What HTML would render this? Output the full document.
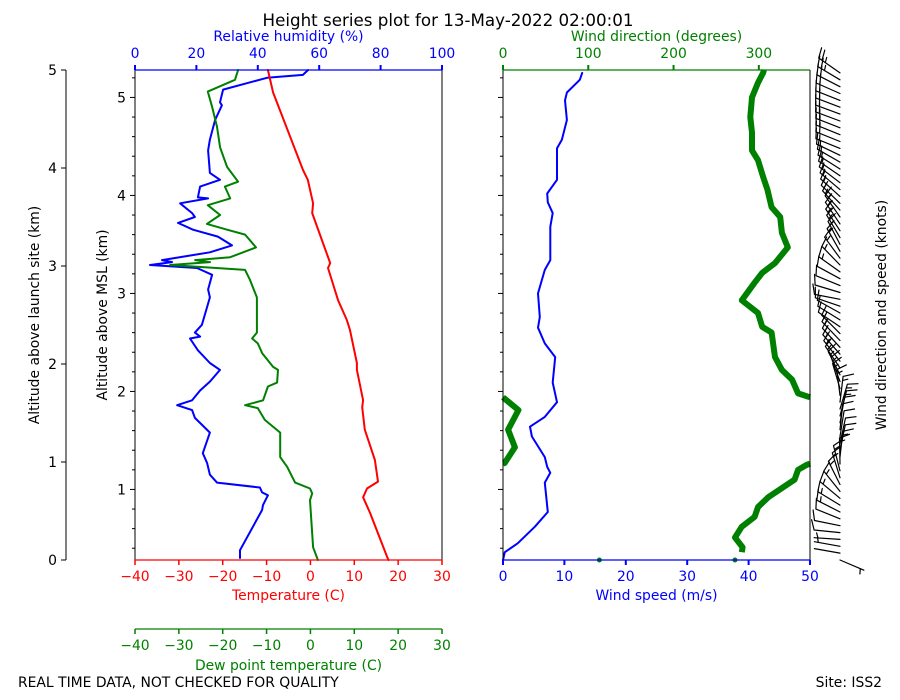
<!DOCTYPE html>
<html><head><meta charset="utf-8"><style>
body{margin:0;background:#fff}
svg{display:block;font-family:"DejaVu Sans","Liberation Sans",sans-serif}
</style></head><body>
<svg id="c" width="900" height="700" viewBox="0 0 900 700">
<text x="448" y="26" font-size="16.7" text-anchor="middle">Height series plot for 13-May-2022 02:00:01</text>
<text x="18" y="687" font-size="13.9">REAL TIME DATA, NOT CHECKED FOR QUALITY</text>
<text x="882" y="687" font-size="13.9" text-anchor="end">Site: ISS2</text>
<g id="g"></g>
</svg>
<script>
// ---- data (altitude above launch site, km) ----
const tAlt=[0,0.03,0.48,0.64,0.73,0.80,1.02,1.33,1.56,1.63,1.94,2.01,2.35,2.45,2.65,2.98,3.03,3.54,3.64,3.88,3.98,4.77,5.0];
const tVal=[17.8,17.5,13.6,12.0,12.9,15.4,14.7,12.4,11.8,12.0,10.6,10.6,9.0,8.3,6.3,4.0,4.5,0.4,0.6,-0.6,-1.7,-8.5,-9.7];
const tdAlt=[5.0,4.90,4.78,4.62,4.42,4.21,4.01,3.86,3.81,3.69,3.62,3.52,3.43,3.37,3.32,3.19,3.09,3.06,3.04,3.01,2.96,2.86,2.68,2.45,2.32,2.26,2.21,2.11,1.97,1.94,1.81,1.77,1.63,1.58,1.55,1.43,1.30,1.05,0.95,0.79,0.73,0.68,0.61,0.13,0];
const tdVal=[-16.5,-17.2,-23.4,-22.4,-21.3,-20.6,-19.0,-16.5,-19.5,-18.3,-23.4,-20.6,-23.6,-19.0,-14.9,-12.4,-18.3,-26.3,-22.9,-32.0,-14.9,-13.8,-12.2,-12.2,-12.2,-13.3,-12.0,-11.0,-8.5,-7.4,-7.6,-9.7,-10.8,-14.9,-12.0,-10.4,-6.9,-6.9,-5.3,-3.5,-0.1,0.4,-0.1,0.6,1.7];
const rhAlt=[5.0,4.95,4.92,4.80,4.67,4.64,4.49,4.29,4.18,3.95,3.88,3.81,3.70,3.69,3.64,3.54,3.50,3.44,3.37,3.30,3.21,3.14,3.06,3.04,3.01,2.98,2.91,2.76,2.68,2.40,2.32,2.28,2.26,2.14,2.01,1.94,1.82,1.73,1.63,1.58,1.53,1.45,1.30,1.09,0.99,0.87,0.79,0.74,0.69,0.66,0.56,0.51,0.10,0.02];
const rhVal=[56.4,54.7,43.0,28.7,27.7,28.3,26.1,24.4,23.8,24.4,27.7,21.2,20.5,23.8,14.7,18.6,19.5,14.0,18.9,27.0,31.6,24.4,8.8,12.1,4.9,20.2,25.1,23.8,24.4,21.8,19.5,21.2,17.9,20.5,24.4,27.7,24.4,21.2,18.6,13.7,18.6,19.5,24.4,22.1,23.5,24.4,26.7,40.7,41.4,43.3,41.7,41.4,34.2,34.2];
const wsAlt=[0,0.08,0.17,0.34,0.49,0.79,0.89,0.95,1.05,1.26,1.36,1.46,1.61,1.81,2.07,2.21,2.37,2.48,2.72,2.96,3.06,3.40,3.54,3.65,3.74,3.88,4.20,4.29,4.49,4.69,4.77,4.90,4.97];
const wsVal=[0,0.3,2.4,5.2,7.3,6.8,7.7,7.2,6.8,4.7,4.4,6.8,8.8,8.1,8.5,6.8,5.7,6.0,5.7,6.8,7.7,7.7,8.1,7.3,7.2,8.8,8.8,9.6,10.4,10.1,10.4,12.5,12.9];
const wdAlt=[0.08,0.13,0.23,0.34,0.44,0.54,0.64,0.82,0.92,0.97,0.99,1.15,1.33,1.53,1.66,1.70,1.84,1.94,2.07,2.32,2.38,2.52,2.65,2.83,2.93,3.03,3.19,3.34,3.50,3.60,3.78,3.91,4.08,4.18,4.36,4.52,4.72,4.87,4.97,5.0];
const wdVal=[280,281,272,280,295,299,311,342,346,356,2,14,6,18,0,346,339,327,319,315,304,299,280,295,304,319,334,327,325,315,310,305,299,292,292,290,292,299,305,306];
const groundDir=[113,272];
const groundBarbDir=113, groundBarbSpeed=1.3;
const tTicks=[-40,-30,-20,-10,0,10,20,30];
const rhTicks=[0,20,40,60,80,100];
const wsTicks=[0,10,20,30,40,50];
const wdTicks=[0,100,200,300];
const siteTicks=[0,1,2,3,4,5];
const mslTicks=[1,2,3,4,5];
const mslOffset=0.28;

// ---- scales ----
const yS=a=>560-98*a;
const yM=m=>yS(m-mslOffset);
const xT=t=>135+(t+40)*307/70;
const xRH=r=>135+r*3.07;
const xWS=s=>503+s*6.14;
const xWD=d=>503+d*307/360;

const NS='http://www.w3.org/2000/svg';
const G=document.getElementById('g');
const FS=13.9;
function mk(tag,attrs,parent){const e=document.createElementNS(NS,tag);for(const k in attrs)e.setAttribute(k,attrs[k]);(parent||G).appendChild(e);return e;}
function txt(x,y,s,fill,anchor,size,rot){const e=mk('text',{x:x,y:y,fill:fill,'font-size':size||FS,'text-anchor':anchor||'middle'});if(rot)e.setAttribute('transform','rotate(-90 '+x+' '+y+')');e.textContent=s;return e;}

// ---- series ----
function poly(xs,ys,color,w,name){const p=xs.map((x,i)=>x.toFixed(1)+','+ys[i].toFixed(1)).join(' ');const e=mk('polyline',{points:p,fill:'none',stroke:color,'stroke-width':w,'stroke-linejoin':'round','stroke-linecap':'round'});


return e;}
poly(rhVal.map(xRH),rhAlt.map(yS),'#0000ff',2,'relative-humidity-line');
poly(tdVal.map(xT),tdAlt.map(yS),'#008000',2,'dew-point-line');
poly(tVal.map(xT),tAlt.map(yS),'#ff0000',2,'temperature-line');
poly(wsVal.map(xWS),wsAlt.map(yS),'#0000ff',2,'wind-speed-line');

// wind direction with wrap
(function(){let segs=[[]];
for(let i=0;i<wdVal.length;i++){
 if(i>0){const p=wdVal[i-1],c=wdVal[i],pa=wdAlt[i-1],ca=wdAlt[i];
  if(Math.abs(c-p)>180){let edgeP,edgeC,f;
   if(p>c){f=(360-p)/(c+360-p);edgeP=360;edgeC=0;}else{f=p/(p+360-c);edgeP=0;edgeC=360;}
   const a=pa+(ca-pa)*f;segs[segs.length-1].push([xWD(edgeP),yS(a)]);segs.push([[xWD(edgeC),yS(a)]]);}
 }
 segs[segs.length-1].push([xWD(wdVal[i]),yS(wdAlt[i])]);}
segs.forEach(s=>{if(s.length<2)return;const e=mk('polyline',{points:s.map(q=>q[0].toFixed(1)+','+q[1].toFixed(1)).join(' '),fill:'none',stroke:'#008000','stroke-width':6,'stroke-linejoin':'round','stroke-linecap':'butt'});

});
groundDir.forEach(d=>{const e=mk('circle',{cx:xWD(d),cy:560,r:2.5,fill:'#008000'});

});
})();

// ---- barbs ----
function interp(xa,ya,a){for(let i=1;i<xa.length;i++){if(a<=xa[i]){const f=(a-xa[i-1])/(xa[i]-xa[i-1]);return [i,f];}}return [xa.length-1,1];}
function wsAt(a){const [i,f]=interp(wsAlt,wsVal,a);return wsVal[i-1]+(wsVal[i]-wsVal[i-1])*f;}
function wdAt(a){if(a<=wdAlt[0])return wdVal[0];const [i,f]=interp(wdAlt,wdVal,a);let p=wdVal[i-1],c=wdVal[i];if(c-p>180)c-=360;if(p-c>180)c+=360;return ((p+(c-p)*f)%360+360)%360;}
const BG=mk('g',{stroke:'#000','stroke-width':1.2,fill:'none','stroke-linecap':'round'});


function barb(a,dir,ms){const bx=840,by=yS(a),L=26,th=dir*Math.PI/180;
 const ux=Math.sin(th),uy=-Math.cos(th),px=-uy,py=ux;
 const tx=bx+ux*L,ty=by+uy*L;let d='M'+bx.toFixed(1)+' '+by.toFixed(1)+'L'+tx.toFixed(1)+' '+ty.toFixed(1);
 let kt=Math.round(ms*1.944/5)*5;let full=Math.floor(kt/10),half=kt%10>=5?1:0;let pos=0;
 if(full===0&&half)pos=4;
 for(let k=0;k<full+half;k++){const sx=tx-ux*pos,sy=ty-uy*pos;const fl=k<full?10:5;
  d+='M'+sx.toFixed(1)+' '+sy.toFixed(1)+'L'+(sx+px*fl+ux*fl*0.35).toFixed(1)+' '+(sy+py*fl+uy*fl*0.35).toFixed(1);pos+=4;}
 mk('path',{d:d},BG);}
for(let a=0.07;a<=5.0;a+=0.07){barb(a,wdAt(a),wsAt(a));}
barb(0,groundBarbDir,groundBarbSpeed);

// ---- axes ----
const AX=mk('g',{'stroke-width':1});
function line(x1,y1,x2,y2,c,w){return mk('line',{x1:x1,y1:y1,x2:x2,y2:y2,stroke:c,'stroke-width':w||1},AX);}
line(135,70,135,560,'#000');line(442,70,442,560,'#000');
line(135,70,442,70,'#0000ff',1.2);line(135,560,442,560,'#ff0000',1.2);
line(503,70,503,560,'#000');line(810,70,810,560,'#000');
line(503,70,810,70,'#008000',1.2);line(503,560,810,560,'#0000ff',1.2);
line(66,70,66,560,'#000');
siteTicks.forEach(v=>{line(61,yS(v),66,yS(v),'#000');txt(57,yS(v)+5,String(v),'#000','end');});
txt(39,315,'Altitude above launch site (km)','#000','middle',FS,true);
for(let m=0.4;m<=5.3;m+=0.2){const y=yM(m);if(y<70||y>560)continue;const maj=Math.abs(m-Math.round(m))<0.01;
 line(maj?130:132,y,135,y,'#000');line(maj?498:500,y,503,y,'#000');}
mslTicks.forEach(v=>{txt(126,yM(v)+5,String(v),'#000','end');});
txt(107,315,'Altitude above MSL (km)','#000','middle',FS,true);
tTicks.forEach(v=>{line(xT(v),560,xT(v),565,'#ff0000',1.5);txt(xT(v),581,v<0?'\u2212'+(-v):String(v),'#ff0000');});
txt(288.5,600,'Temperature (C)','#ff0000');
line(135,629,442,629,'#008000',1.2);
tTicks.forEach(v=>{line(xT(v),629,xT(v),634,'#008000',1.5);txt(xT(v),650,v<0?'\u2212'+(-v):String(v),'#008000');});
txt(288.5,670,'Dew point temperature (C)','#008000');
rhTicks.forEach(v=>{line(xRH(v),65,xRH(v),70,'#0000ff',2);txt(xRH(v),58,String(v),'#0000ff');});
txt(288.5,41,'Relative humidity (%)','#0000ff');
wsTicks.forEach(v=>{line(xWS(v),560,xWS(v),565,'#0000ff',2);txt(xWS(v),581,String(v),'#0000ff');});
txt(656.5,600,'Wind speed (m/s)','#0000ff');
wdTicks.forEach(v=>{line(xWD(v),65,xWD(v),70,'#008000',2);txt(xWD(v),58,String(v),'#008000');});
txt(656.5,41,'Wind direction (degrees)','#008000');
txt(886,315,'Wind direction and speed (knots)','#000','middle',FS,true);
</script>
</body></html>
